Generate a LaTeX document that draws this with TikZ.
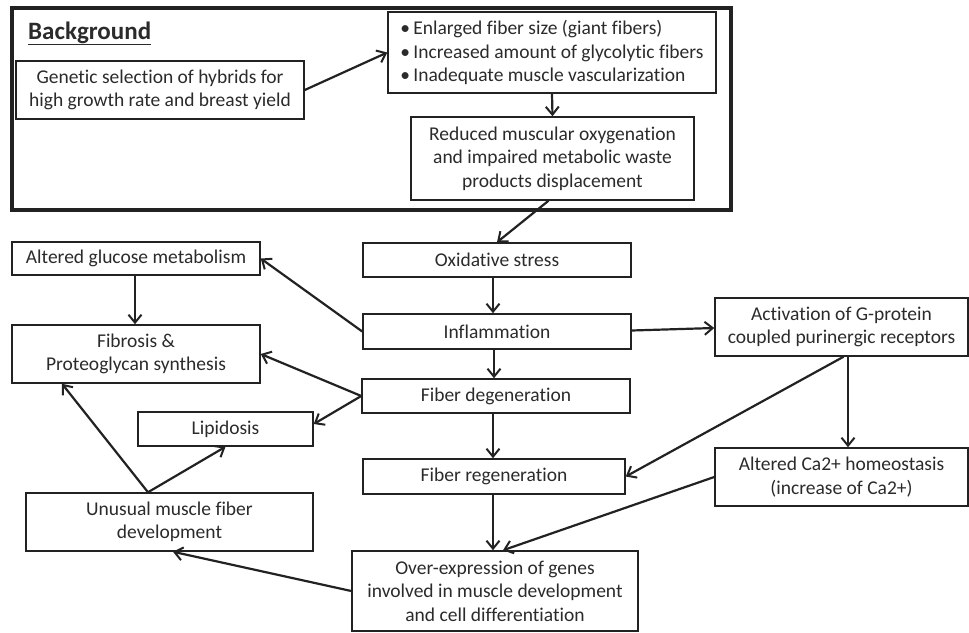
\documentclass[tikz,border=0pt]{standalone}
\usepackage{fontspec}
\setmainfont{Carlito}[RawFeature={-liga;-clig;-calt;-dlig}]
\usetikzlibrary{arrows.meta,calc}
\definecolor{txt}{HTML}{2B2B2B}
\definecolor{ln}{HTML}{222222}
\tikzset{
  box/.style={draw=ln, line width=1.5pt, rectangle, inner sep=2pt, align=center,
    text=txt, font=\fontsize{19.5}{23.5}\selectfont},
  arr/.style={draw=ln, line width=2.2pt, -{Straight Barb[length=8pt,width=13pt,line width=2pt]}},
}
\begin{document}
\begin{tikzpicture}[x=1pt,y=-1pt]
\useasboundingbox (0,0) rectangle (969,632);
\fill[white] (0,0) rectangle (969,632);
% Background frame
\draw[ln, line width=3.5pt] (12,8) rectangle (731,210);
\node[anchor=base west, inner sep=0pt, text=txt, font=\fontsize{25}{28}\selectfont\bfseries] (title) at (28,39) {\underline{Background}};
% nodes
\node[box, minimum width=288, minimum height=58] (gen) at (160,90) {Genetic selection of hybrids for\\high growth rate and breast yield};
\node[box, minimum width=328, minimum height=81, align=left] (bul) at (552,52.5) {\textbullet\,Enlarged fiber size (giant fibers)\\\textbullet\,Increased amount of glycolytic fibers\\\textbullet\,Inadequate muscle vascularization};
\node[box, minimum width=283, minimum height=83] (red) at (552.5,158.5) {Reduced muscular oxygenation\\and impaired metabolic waste\\products displacement};
\node[box, minimum width=268, minimum height=34] (oxi) at (497,260) {Oxidative stress};
\node[box, minimum width=268, minimum height=35] (inf) at (497,331.5) {Inflammation};
\node[box, minimum width=268, minimum height=34] (deg) at (496,396) {Fiber degeneration};
\node[box, minimum width=262, minimum height=35] (reg) at (494,476.5) {Fiber regeneration};
\node[box, minimum width=286, minimum height=80] (ovr) at (495,591) {Over-expression of genes\\involved in muscle development\\and cell differentiation};
\node[box, minimum width=253, minimum height=58] (act) at (841.5,327) {Activation of G-protein\\coupled purinergic receptors};
\node[box, minimum width=253, minimum height=58] (ca) at (841.5,477) {Altered Ca2+ homeostasis\\(increase of Ca2+)};
\node[box, minimum width=248, minimum height=33] (glu) at (136,258.5) {Altered glucose metabolism};
\node[box, minimum width=248, minimum height=58] (fib) at (136,354) {Fibrosis \&\\Proteoglycan synthesis};
\node[box, minimum width=175, minimum height=34] (lip) at (225.5,429) {Lipidosis};
\node[box, minimum width=287, minimum height=58] (unu) at (169.5,522) {Unusual muscle fiber\\development};
% connectors
\draw[arr] (gen.east) -- (bul.west);
\draw[arr] (bul.south) -- (red.north);
\draw[arr] ([xshift=-4pt]red.south) -- (oxi.north);
\draw[arr] ([xshift=-4pt]oxi.south) -- ([xshift=-4pt]inf.north);
\draw[arr] ([xshift=-3pt]inf.south) -- ([xshift=-2pt]deg.north);
\draw[arr] ([xshift=-3pt]deg.south) -- ([xshift=-1pt]reg.north);
\draw[arr] ([xshift=-1pt]reg.south) -- ([xshift=-2pt]ovr.north);
\draw[arr] ([yshift=1pt]inf.east) -- ([yshift=-1pt]act.west);
\draw[arr] ([xshift=6.5pt]act.south) -- ([xshift=6.5pt]ca.north);
\draw[arr] ([xshift=2pt]act.south) -- (reg.east);
\draw[arr] (ca.west) -- ([xshift=8pt]ovr.north);
\draw[arr] (inf.west) -- (glu.east);
\draw[arr] ([xshift=-1pt]glu.south) -- ([xshift=-1pt]fib.north);
\draw[arr] (deg.west) -- (fib.east);
\draw[arr] (deg.west) -- ([yshift=5pt]lip.east);
\coordinate (unutop) at ([xshift=-21.5pt]unu.north);
\draw[arr] (unutop) -- (lip.south);
\draw[arr] (unutop) -- ([xshift=-74pt]fib.south);
\draw[arr] (ovr.west) -- ([xshift=3.5pt]unu.south);
\end{tikzpicture}
\end{document}
